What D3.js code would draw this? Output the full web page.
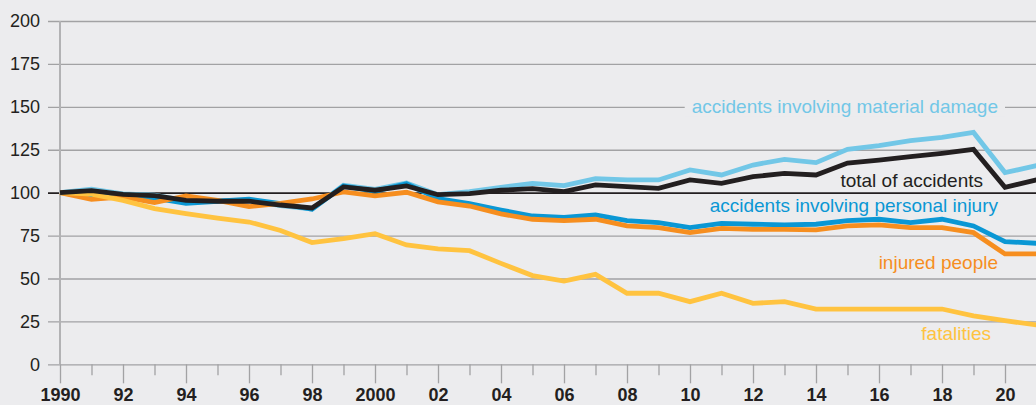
<!DOCTYPE html>
<html>
<head>
<meta charset="utf-8">
<script src="https://cdn.jsdelivr.net/npm/d3@7"></script>
<style>
  html, body { margin: 0; padding: 0; background: #ececee; }
  #chart { width: 1036px; height: 405px; overflow: hidden; }
  text { font-family: "Liberation Sans", Arial, sans-serif; }
</style>
</head>
<body>
<div id="chart"></div>
<script>
var years = [1990, 1991, 1992, 1993, 1994, 1995, 1996, 1997, 1998, 1999,
  2000, 2001, 2002, 2003, 2004, 2005, 2006, 2007, 2008, 2009,
  2010, 2011, 2012, 2013, 2014, 2015, 2016, 2017, 2018, 2019, 2020, 2021];

var yTicks = [0, 25, 50, 75, 100, 125, 150, 175, 200];

var materialDamage = [100, 102, 99.3, 98.6, 95.2, 95.3, 95.5, 92.5, 90.5, 104.3,
  101.9, 105.6, 98.8, 100.6, 103.1, 105.4, 104.1, 108.2, 107.4, 107.4,
  113.2, 110.3, 116.1, 119.4, 117.5, 125.2, 127.4, 130.3, 132.2, 135.1, 111.7, 115.7];

var personalInjury = [100, 98.8, 98.8, 96.8, 93.8, 95, 96.2, 93.6, 90.3, 103.9,
  100.8, 105.2, 96.5, 93.6, 89.9, 86.4, 85.6, 87, 83.7, 82.5,
  79.6, 82.1, 81.6, 81.2, 81.6, 83.7, 84.5, 82.5, 84.5, 80.6, 71.5, 70.5];

var injuredPeople = [100, 96.1, 97.5, 94.2, 98.1, 95.5, 91.9, 93.8, 96.3, 100.4,
  98.1, 100.2, 94.6, 92.2, 87.6, 84.5, 83.7, 84.5, 80.6, 79.6,
  76.7, 79.2, 78.6, 78.6, 78.3, 80.6, 81.2, 79.6, 79.6, 76.7, 64.3, 64.3];

var fatalities = [100, 99.2, 95.5, 90.7, 87.8, 85.2, 82.9, 78, 70.9, 73.2,
  76.1, 69.5, 67.2, 66.2, 58.8, 51.7, 48.5, 52.4, 41.4, 41.4,
  36.5, 41.4, 35.5, 36.5, 32.2, 32.2, 32.2, 32.2, 32.2, 28.2, 25.4, 22.9];

var totalAccidents = [100, 101.2, 99, 98.3, 95.5, 95, 95, 92.8, 91.1, 103.3,
  101.4, 103.9, 98.8, 99.4, 101.4, 102.3, 100.6, 104.5, 103.5, 102.5,
  107.4, 105.4, 109.3, 111.2, 110.3, 117.2, 119, 121, 122.9, 125.2, 103.1, 107.4];

var seriesNames = ["accidents involving material damage", "accidents involving personal injury",
  "injured people", "fatalities", "total of accidents"];
var seriesValues = [materialDamage, personalInjury, injuredPeople, fatalities, totalAccidents];
var seriesColors = ["#72c7e7", "#0a97d4", "#f68e1f", "#ffc340", "#231f20"];

var width = 1036;
var height = 405;

var svg = d3.select("#chart")
    .append("svg")
    .attr("width", width)
    .attr("height", height);

var x = d3.scaleLinear().domain([1990, 2021]).range([60, 1036.5]);
var y = d3.scaleLinear().domain([0, 200]).range([364.3, 21]);

// gridlines + y labels
var yAxis = d3.axisLeft(y)
    .tickValues(yTicks)
    .tickSize(-(width - 48))
    .tickPadding(8);

var yG = svg.append("g")
    .attr("transform", "translate(48,0)")
    .call(yAxis);
yG.select(".domain").remove();
yG.selectAll(".tick line")
    .attr("stroke", function(d) { return d === 100 ? "#231f20" : "#a2a2a4"; })
    .attr("stroke-width", function(d) { return d === 100 ? 1.6 : 1.3; });
yG.selectAll(".tick text")
    .attr("fill", "#231f20")
    .style("font-size", "18px");

svg.append("line")
    .attr("x1", x(1990)).attr("x2", x(1990))
    .attr("y1", y(200)).attr("y2", y(0))
    .attr("stroke", "#b2b2b4")
    .attr("stroke-width", 2);

// x axis ticks: short for odd years, long for even years
var oddYears = years.filter(function(d) { return d % 2 === 1; });
var evenYears = years.filter(function(d) { return d % 2 === 0; });

var xMinor = svg.append("g")
    .attr("transform", "translate(0," + y(0) + ")")
    .call(d3.axisBottom(x).tickValues(oddYears).tickSize(11).tickFormat(""));
xMinor.select(".domain").remove();

var xMajor = svg.append("g")
    .attr("transform", "translate(0," + y(0) + ")")
    .call(d3.axisBottom(x)
        .tickValues(evenYears)
        .tickSize(19)
        .tickPadding(5)
        .tickFormat(function(d) {
            return (d === 1990 || d === 2000) ? String(d) : String(d).slice(2);
        }));
xMajor.select(".domain").remove();

svg.selectAll(".tick line")
    .filter(function() { return this.parentNode.parentNode !== yG.node(); })
    .attr("stroke", "#a2a2a4")
    .attr("stroke-width", 1.3);
xMajor.selectAll(".tick text")
    .attr("fill", "#231f20")
    .style("font-size", "18px")
    .style("font-weight", "bold");

// lines
var line = d3.line()
    .x(function(d, i) { return x(years[i]); })
    .y(function(d) { return y(d); });

svg.append("g")
    .selectAll("path")
    .data(seriesValues)
    .enter()
    .append("path")
    .attr("d", line)
    .attr("fill", "none")
    .attr("stroke", function(d, i) { return seriesColors[i]; })
    .attr("stroke-width", 4.8);

// labels
var labelX = [998, 998, 998, 991, 983];
var labelY = [112.7, 211.7, 269, 340, 187.3];

var labels = svg.append("g");
seriesNames.forEach(function(name, i) {
    var t = labels.append("text")
        .attr("x", labelX[i])
        .attr("y", labelY[i])
        .attr("text-anchor", "end")
        .attr("fill", seriesColors[i])
        .style("font-size", "19px")
        .text(name);
    if (i === 0) {
        var b = t.node().getBBox();
        labels.insert("rect", "text")
            .attr("x", b.x - 7)
            .attr("y", b.y)
            .attr("width", b.width + 14)
            .attr("height", b.height)
            .attr("fill", "#ececee");
    }
});
</script>
</body>
</html>
